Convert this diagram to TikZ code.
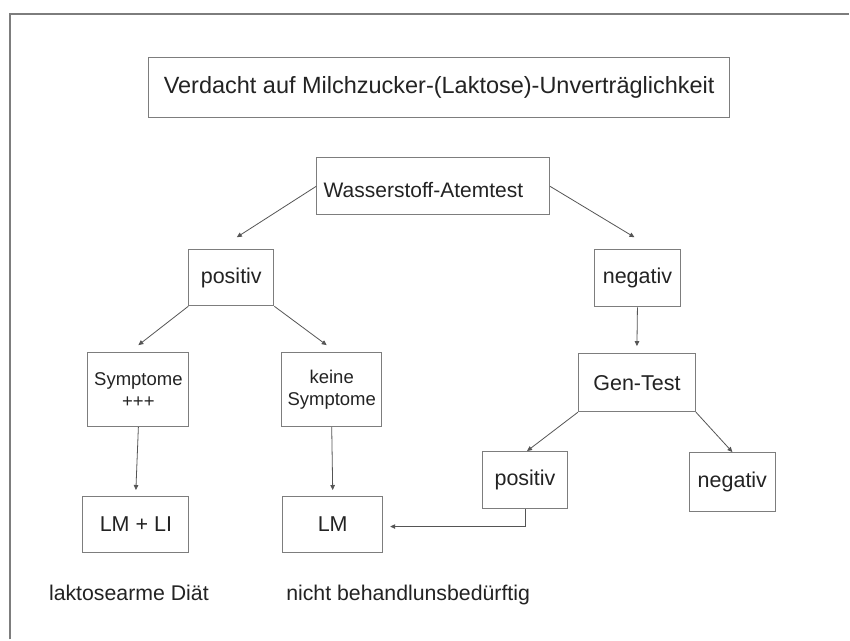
\documentclass[tikz,border=0pt]{standalone}
\usepackage{fontspec}
\setmainfont{Liberation Sans}
\usetikzlibrary{arrows.meta,positioning}
\definecolor{frame}{RGB}{125,125,125}
\definecolor{edge}{RGB}{85,85,85}
\definecolor{txt}{RGB}{35,35,35}

\begin{document}
\begin{tikzpicture}[x=1pt, y=1pt,
    box/.style n args={2}{draw=frame, line width=1.1pt, text=txt, inner sep=0pt,
              minimum width=#1pt, minimum height=#2pt, align=center,
              font=\fontsize{21.5}{26}\selectfont},
    small/.style={font=\fontsize{18.5}{22}\selectfont},
    note/.style={text=txt, inner sep=0pt, anchor=base,
              font=\fontsize{21.3}{26}\selectfont},
    arr/.style={-{Triangle[length=5pt,width=4.5pt]}, draw=edge, line width=0.8pt}
]
\fill[white] (0,0) rectangle (850,640);
\draw[frame, line width=1.5pt] (10,0) -- (10,626) -- (850,626);

\node[box={581}{60}, font=\fontsize{23.5}{28}\selectfont] (title) at (439.5,552)
    {Verdacht auf Milchzucker-(Laktose)-Unverträglichkeit};
\node[box={233}{57}, text width=219pt, align=left, text height=23pt,
      font=\fontsize{21}{26}\selectfont] (wat) at (433.5,453.5) {Wasserstoff-Atemtest};

\node[box={85}{56}] (pos) at (231.5,362) {positiv};
\node[box={86}{57}] (neg) at (638,361.5) {negativ};

\node[box={101}{74}, small] (sym) at (138.5,250) {Symptome\\+++};
\node[box={100}{74}, small] (keine) at (332,250) {keine\\Symptome};
\node[box={117}{58}] (gen) at (637.5,257) {Gen-Test};

\node[box={85}{57}] (pos2) at (525.5,159.5) {positiv};
\node[box={86}{59}] (neg2) at (733,157.5) {negativ};

\node[box={106}{56}] (lmli) at (136,115) {LM + LI};
\node[box={100}{56}] (lm) at (333,115) {LM};

\node[note] (diaet) at (129,39) {laktosearme Diät};
\node[note] (nbeh) at (408.5,39) {nicht behandlunsbedürftig};

\draw[arr] (wat.west) -- ([xshift=5.5pt,yshift=12pt]pos.north);
\draw[arr] (wat.east) -- ([xshift=-3pt,yshift=12pt]neg.north);
\draw[arr] (pos.south west) -- ([yshift=7pt]sym.north);
\draw[arr] (pos.south east) -- ([xshift=-5pt,yshift=7pt]keine.north);
\draw[arr] (neg.south) -- ([yshift=7pt]gen.north);
\draw[arr] (gen.south west) -- ([xshift=2pt]pos2.north);
\draw[arr] (gen.south east) -- (neg2.north);
\draw[arr] (sym.south) -- ([yshift=6pt]lmli.north);
\draw[arr] (keine.south) -- ([yshift=6pt]lm.north);
\draw[arr] (pos2.south) |- ([xshift=7pt,yshift=-2pt]lm.east);
\end{tikzpicture}
\end{document}
